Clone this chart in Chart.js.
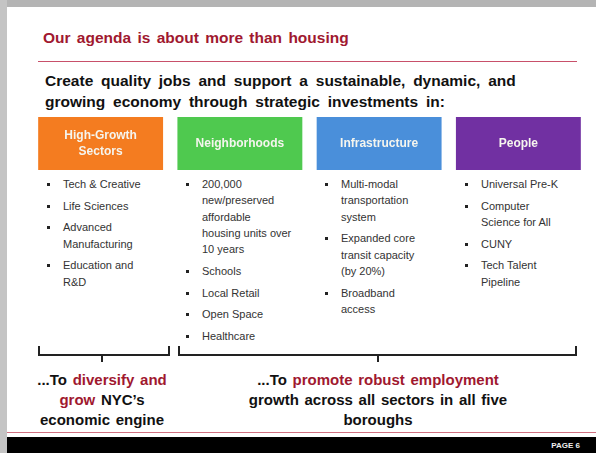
<!DOCTYPE html>
<html>
<head>
<meta charset="utf-8">
<script src="https://cdn.jsdelivr.net/npm/chart.js@4.4.1/dist/chart.umd.min.js"></script>
<style>
  html, body { margin: 0; padding: 0; }
  body { width: 596px; height: 453px; position: relative; overflow: hidden; background: #fff;
         font-family: "Liberation Sans", Arial, sans-serif; }
  .abs { position: absolute; }
  #topgray { left: 0; top: 0; width: 596px; height: 7px; background: #b4b4b4; }
  #leftgray { left: 0; top: 0; width: 7px; height: 453px; background: #c4c4c4; }
  #title { left: 43px; top: 29px; font-size: 15.5px; font-weight: bold; color: #a0182f; word-spacing: 2px; }
  #rule { left: 38px; top: 61px; width: 539px; height: 1px; background: #c8506a; }
  #sub { left: 45px; top: 70px; font-size: 15.5px; font-weight: bold; color: #111; line-height: 21px; word-spacing: 3.5px; }
  .col { font-size: 11px; color: #333; line-height: 16.3px; }
  .col ul { margin: 0; padding: 0; list-style: none; }
  .col li { position: relative; margin-bottom: 5.4px; }
  .col li:before { content: ""; position: absolute; left: -16px; top: 7px; width: 3px; height: 3px; background: #222; }
  .br { border: 2px solid #222; border-top: none; height: 8px; }
  .tick { width: 2px; height: 7px; background: #222; }
  .concl { font-size: 15px; font-weight: bold; color: #111; text-align: center; line-height: 20px; word-spacing: 1.5px; }
  .red { color: #a0182f; }
  #redline { left: 7px; top: 432px; width: 589px; height: 1px; background: #d07080; }
  #footer { left: 7px; top: 437px; width: 589px; height: 16px; background: #000; }
  #page { right: 16px; top: 441px; font-size: 8px; font-weight: bold; color: #eee; }
</style>
</head>
<body>
<div class="abs" id="topgray"></div>
<div class="abs" id="leftgray"></div>
<div class="abs" id="title">Our agenda is about more than housing</div>
<div class="abs" id="rule"></div>
<div class="abs" id="sub">Create quality jobs and support a sustainable, dynamic, and<br>growing economy through strategic investments in:</div>

<canvas class="abs" id="boxes" width="557" height="53" style="left:31px; top:117px;"></canvas>

<div id="cols"></div>

<div class="abs br" style="left:38px; top:346px; width:128px;"></div>
<div class="abs tick" style="left:101px; top:355px;"></div>
<div class="abs br" style="left:178px; top:346px; width:395px;"></div>
<div class="abs tick" style="left:377px; top:355px;"></div>

<div class="abs concl" style="left:20px; top:370px; width:164px;">...To <span class="red">diversify and<br>grow</span> NYC’s<br>economic engine</div>
<div class="abs concl" style="left:224px; top:370px; width:308px;">...To <span class="red">promote robust employment</span><br>growth across all sectors in all five<br>boroughs</div>

<div class="abs" id="redline"></div>
<div class="abs" id="footer"></div>
<div class="abs" id="page">PAGE 6</div>

<script>
// header categories
var categories = [['High-Growth', 'Sectors'], 'Neighborhoods', 'Infrastructure', 'People'];
var boxValues = [1, 1, 1, 1];

// bullet items for each column (explicit line breaks as on the slide)
var sectorItems = ['Tech & Creative', 'Life Sciences', 'Advanced<br>Manufacturing', 'Education and<br>R&amp;D'];
var neighborhoodItems = ['200,000<br>new/preserved<br>affordable<br>housing units over<br>10 years', 'Schools', 'Local Retail', 'Open Space', 'Healthcare'];
var infraItems = ['Multi-modal<br>transportation<br>system', 'Expanded core<br>transit capacity<br>(by 20%)', 'Broadband<br>access'];
var peopleItems = ['Universal Pre-K', 'Computer<br>Science for All', 'CUNY', 'Tech Talent<br>Pipeline'];

var boxColors = ['#f47c20', '#4fc94f', '#4a8fda', '#7130a2'];
var colLeft = [63, 202, 341, 481];

var allItems = [sectorItems, neighborhoodItems, infraItems, peopleItems];
var colsDiv = document.getElementById('cols');
allItems.forEach(function(items, i) {
  var d = document.createElement('div');
  d.className = 'abs col';
  d.style.left = colLeft[i] + 'px';
  d.style.top = '176px';
  d.innerHTML = '<ul>' + items.map(function(t) { return '<li>' + t + '</li>'; }).join('') + '</ul>';
  colsDiv.appendChild(d);
});

var boxLabels = {
  id: 'boxLabels',
  afterDatasetsDraw: function(chart) {
    var ctx = chart.ctx;
    var meta = chart.getDatasetMeta(0);
    ctx.save();
    ctx.fillStyle = '#f5f5ee';
    ctx.font = 'bold 12px "Liberation Sans", Arial, sans-serif';
    ctx.textAlign = 'center';
    ctx.textBaseline = 'middle';
    meta.data.forEach(function(bar, i) {
      var lab = chart.data.labels[i];
      var lines = Array.isArray(lab) ? lab : [lab];
      var cy = (bar.y + bar.base) / 2;
      var lh = 16;
      lines.forEach(function(l, j) {
        ctx.fillText(l, bar.x, cy + (j - (lines.length - 1) / 2) * lh);
      });
    });
    ctx.restore();
  }
};

new Chart(document.getElementById('boxes'), {
  type: 'bar',
  data: {
    labels: categories,
    datasets: [{
      data: boxValues,
      backgroundColor: boxColors,
      borderWidth: 0,
      barPercentage: 1,
      categoryPercentage: 0.897
    }]
  },
  options: {
    responsive: false,
    animation: false,
    layout: { padding: 0 },
    plugins: { legend: { display: false }, tooltip: { enabled: false } },
    scales: {
      x: { display: false },
      y: { display: false, min: 0, max: 1 }
    }
  },
  plugins: [boxLabels]
});
</script>
</body>
</html>
